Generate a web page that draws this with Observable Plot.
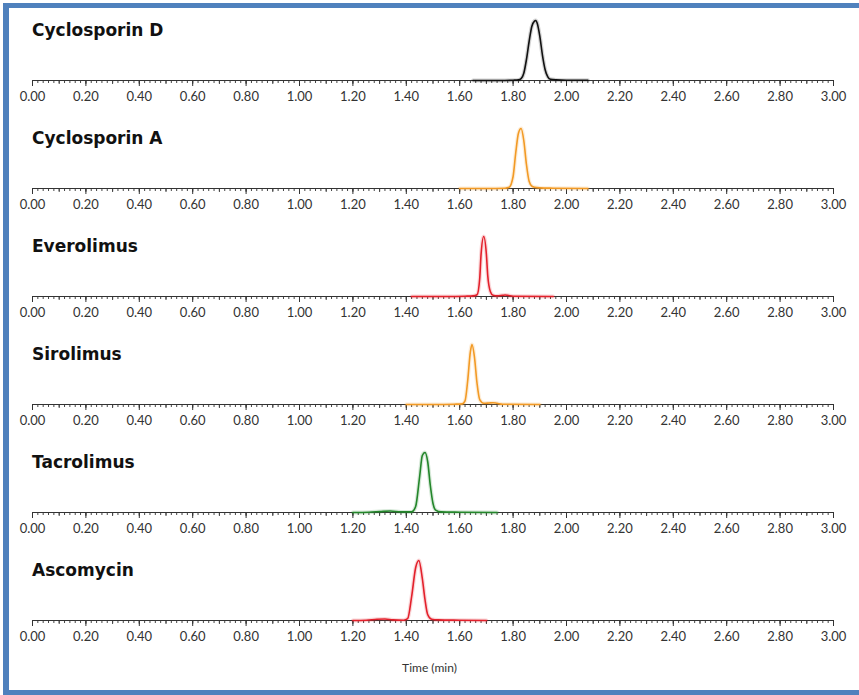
<!DOCTYPE html>
<html>
<head>
<meta charset="utf-8">
<script src="https://cdn.jsdelivr.net/npm/d3@7"></script>
<script src="https://cdn.jsdelivr.net/npm/@observablehq/plot@0.6"></script>
<style>
  html, body { margin: 0; padding: 0; background: #fff; }
  #wrap { position: relative; width: 859px; height: 695px; overflow: hidden; font-family: Lato, "Open Sans", sans-serif; }
  #frame { position: absolute; left: 3px; top: 3px; right: -20px; bottom: 0; border-left: 6px solid #4f81bd; border-top: 5px solid #4f81bd; border-bottom: 5px solid #4f81bd; }
  .panel { position: absolute; left: 0; width: 859px; height: 108px; }
  .panel svg { position: absolute; left: 0; top: 0; }
  .title { position: absolute; left: 32px; top: 15px; font-family: "DejaVu Sans", sans-serif; font-weight: 700; font-size: 17px; line-height: 20px; color: #111; white-space: nowrap; z-index: 2; letter-spacing: 0px; }
  #xlabel { position: absolute; left: 0; width: 859px; top: 660px; text-align: center; font-size: 12px; color: #333; }
</style>
</head>
<body>
<div id="wrap"><div id="frame"></div></div>
<script>
// ---- Data (intensity in % of peak) ----
const compounds = ["Cyclosporin D", "Cyclosporin A", "Everolimus", "Sirolimus", "Tacrolimus", "Ascomycin"];

const cycDTime      = [1.65, 1.75, 1.80, 1.82, 1.83, 1.84, 1.85, 1.86, 1.87, 1.88, 1.885, 1.89, 1.90, 1.91, 1.92, 1.93, 1.94, 1.96, 2.00, 2.08];
const cycDIntensity = [0, 0, 0.5, 1, 3, 12, 35, 65, 90, 99, 100, 96, 74, 42, 18, 6, 2, 1, 0.5, 0.5];

const cycATime      = [1.60, 1.70, 1.77, 1.785, 1.80, 1.81, 1.82, 1.83, 1.84, 1.85, 1.86, 1.87, 1.88, 1.90, 1.95, 2.08];
const cycAIntensity = [0, 0, 0.5, 2, 20, 60, 92, 100, 80, 40, 12, 4, 2, 1, 0.5, 0];

const everoTime      = [1.42, 1.55, 1.62, 1.65, 1.665, 1.675, 1.68, 1.69, 1.70, 1.705, 1.715, 1.725, 1.74, 1.76, 1.77, 1.78, 1.80, 1.95];
const everoIntensity = [0, 0, 0.5, 1, 3, 30, 70, 100, 70, 35, 8, 2, 1, 2, 2.5, 2, 0.5, 0];

const siroTime      = [1.40, 1.50, 1.58, 1.61, 1.62, 1.63, 1.64, 1.646, 1.655, 1.665, 1.675, 1.69, 1.71, 1.725, 1.74, 1.76, 1.90];
const siroIntensity = [0, 0, 0.5, 1, 6, 40, 88, 100, 80, 35, 8, 2, 2.5, 3, 2, 0.5, 0];

const tacroTime      = [1.20, 1.26, 1.30, 1.34, 1.38, 1.42, 1.435, 1.45, 1.46, 1.47, 1.48, 1.49, 1.50, 1.51, 1.53, 1.60, 1.74];
const tacroIntensity = [0, 0.5, 1.5, 2.5, 1, 1, 10, 60, 95, 100, 85, 45, 15, 4, 1, 0.5, 0];

const ascoTime      = [1.20, 1.25, 1.29, 1.32, 1.35, 1.39, 1.405, 1.42, 1.435, 1.447, 1.46, 1.47, 1.48, 1.495, 1.52, 1.60, 1.70];
const ascoIntensity = [0, 0.5, 2, 2.5, 1, 0.5, 3, 40, 88, 100, 70, 35, 10, 2, 1, 0.5, 0];

const tickValues = [0, 0.2, 0.4, 0.6, 0.8, 1.0, 1.2, 1.4, 1.6, 1.8, 2.0, 2.2, 2.4, 2.6, 2.8, 3.0];
const tickLabels = ["0.00", "0.20", "0.40", "0.60", "0.80", "1.00", "1.20", "1.40", "1.60", "1.80", "2.00", "2.20", "2.40", "2.60", "2.80", "3.00"];
const xTitle = "Time (min)";

// ---- Styles ----
const traceColors = ["#111111", "#f29a25", "#e3202b", "#f29a25", "#23862a", "#e3202b"];
const traces = [
  [cycDTime, cycDIntensity], [cycATime, cycAIntensity], [everoTime, everoIntensity],
  [siroTime, siroIntensity], [tacroTime, tacroIntensity], [ascoTime, ascoIntensity]
];

const minorTicks = d3.range(0, 151).map(i => i / 50);
const midTicks = d3.range(0, 31).map(i => i / 10);

const wrap = document.getElementById("wrap");

compounds.forEach((name, k) => {
  const panel = document.createElement("div");
  panel.className = "panel";
  panel.style.top = (5 + 108 * k) + "px";

  const [ts, vs] = traces[k];
  const rows = ts.map((t, i) => ({t, v: vs[i]}));

  const chart = Plot.plot({
    width: 859,
    height: 108,
    marginLeft: 32,
    marginRight: 26,
    marginTop: 15,
    marginBottom: 33,
    x: {domain: [0, 3]},
    y: {domain: [0, 100], axis: null},
    style: {fontFamily: "Lato, 'Open Sans', sans-serif", fontSize: "13px", color: "#333", background: "transparent", overflow: "visible"},
    marks: [
      Plot.axisX({ticks: minorTicks, tickSize: 3, tickFormat: () => "", label: null, stroke: "#444"}),
      Plot.axisX({ticks: midTicks, tickSize: 4, tickFormat: () => "", label: null, stroke: "#444"}),
      Plot.axisX({ticks: tickValues, tickSize: 6, tickPadding: 5, tickFormat: d => tickLabels[tickValues.indexOf(d)], label: null, stroke: "#333", fill: "#333", fontSize: 13}),
      Plot.ruleY([0], {stroke: "#333", strokeWidth: 1}),
      Plot.line(rows, {x: "t", y: "v", stroke: traceColors[k], strokeWidth: 4, strokeOpacity: 0.18, curve: "monotone-x"}),
      Plot.line(rows, {x: "t", y: "v", stroke: traceColors[k], strokeWidth: 1.6, curve: "monotone-x"})
    ]
  });
  panel.appendChild(chart);

  const title = document.createElement("div");
  title.className = "title";
  title.textContent = name;
  panel.appendChild(title);

  wrap.appendChild(panel);
});

const xl = document.createElement("div");
xl.id = "xlabel";
xl.textContent = xTitle;
wrap.appendChild(xl);
</script>
</body>
</html>
